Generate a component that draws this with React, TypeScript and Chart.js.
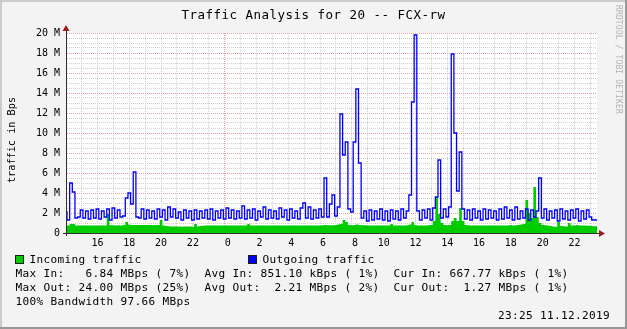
import React, { useEffect, useRef } from 'react';
import { Chart, registerables } from 'chart.js';

Chart.register(...registerables);

// ---- data (MBps, 10-minute steps) ----
const TITLE = 'Traffic Analysis for 20 -- FCX-rw';
const Y_TITLE = 'traffic in Bps';
const WATERMARK = 'RRDTOOL / TOBI OETIKER';
const TIMESTAMP = '23:25 11.12.2019';
const START_HOUR = 14.08333; // 10.12.2019 14:05 (hours from 10.12 00:00)
const END_HOUR = 47.41667; // 11.12.2019 23:25
const STEP_HOURS = 1 / 6;
const Y_MAX = 20;
const Y_LABEL_EVERY = 2;
const Y_GRID_STEP = 0.5;
const SERIES_OUT = 'Outgoing traffic';
const SERIES_IN = 'Incoming traffic';

const OUT_MBPS = [
  2.2, 1.3, 5.0, 4.1, 1.5, 1.6, 2.3, 1.5, 2.2, 1.4,
  2.3, 1.5, 2.4, 1.4, 2.2, 1.6, 2.4, 1.3, 2.5, 1.5,
  2.3, 1.6, 1.7, 3.5, 4.0, 2.9, 6.1, 1.6, 1.5, 2.4,
  1.4, 2.3, 1.5, 2.2, 1.4, 2.4, 1.6, 2.3, 1.3, 2.6,
  1.6, 2.4, 1.5, 2.1, 1.3, 2.3, 1.5, 2.2, 1.3, 2.3,
  1.4, 2.2, 1.5, 2.3, 1.4, 2.4, 1.3, 2.2, 1.5, 2.3,
  1.4, 2.5, 1.5, 2.3, 1.4, 2.2, 1.5, 2.7, 1.4, 2.3,
  1.5, 2.4, 1.3, 2.2, 1.6, 2.6, 1.4, 2.3, 1.5, 2.2,
  1.4, 2.5, 1.6, 2.3, 1.3, 2.4, 1.5, 2.2, 1.4, 2.5,
  3.0, 1.5, 2.6, 1.4, 2.3, 1.5, 2.4, 1.6, 5.5, 1.6,
  2.9, 3.8, 1.7, 2.6, 11.9, 7.8, 9.1, 2.4, 2.1, 9.1,
  14.4, 7.0, 1.5, 2.2, 1.2, 2.3, 1.3, 2.2, 1.4, 2.4,
  1.3, 2.2, 1.2, 2.3, 1.4, 2.2, 1.3, 2.4, 1.5, 2.2,
  3.8, 13.1, 19.8, 2.2, 1.3, 2.3, 1.5, 2.4, 1.3, 2.5,
  3.6, 7.3, 1.5, 2.4, 1.6, 2.6, 17.9, 10.0, 4.2, 8.1,
  2.4, 1.4, 2.3, 1.3, 2.4, 1.5, 2.2, 1.3, 2.4, 1.4,
  2.3, 1.5, 2.2, 1.3, 2.4, 1.4, 2.6, 1.5, 2.3, 1.3,
  2.6, 1.4, 2.2, 1.5, 2.4, 1.3, 2.3, 1.6, 2.2, 5.5,
  1.5, 2.4, 1.3, 2.2, 1.5, 2.3, 1.2, 2.4, 1.4, 2.2,
  1.3, 2.3, 1.5, 2.4, 1.2, 2.2, 1.4, 2.3, 1.6, 1.3,
];

const IN_MBPS = [
  0.75, 0.75, 0.9, 0.9, 0.75, 0.74, 0.76, 0.75, 0.74, 0.76,
  0.75, 0.74, 0.76, 0.75, 0.75, 0.76, 1.9, 0.78, 0.77, 0.76,
  0.77, 0.76, 0.8, 1.1, 0.85, 0.8, 0.8, 0.8, 0.79, 0.8,
  0.8, 0.79, 0.8, 0.78, 0.8, 0.79, 1.3, 0.75, 0.7, 0.68,
  0.66, 0.65, 0.64, 0.65, 0.63, 0.66, 0.64, 0.65, 0.63, 0.9,
  0.66, 0.7, 0.72, 0.74, 0.75, 0.76, 0.75, 0.74, 0.75, 0.76,
  0.75, 0.76, 0.74, 0.75, 0.76, 0.75, 0.76, 0.74, 0.75, 0.9,
  0.75, 0.76, 0.75, 0.74, 0.75, 0.76, 0.75, 0.76, 0.74, 0.75,
  0.76, 0.75, 0.74, 0.76, 0.75, 0.74, 0.76, 0.75, 0.76, 0.75,
  0.76, 0.75, 0.74, 0.76, 0.75, 0.76, 0.75, 0.78, 0.8, 0.78,
  0.77, 0.78, 0.8, 0.85, 0.9, 1.3, 1.1, 0.8, 0.78, 0.8,
  0.85, 0.8, 0.78, 0.77, 0.76, 0.75, 0.76, 0.75, 0.76, 0.75,
  0.76, 0.74, 0.75, 0.9, 0.76, 0.75, 0.74, 0.76, 0.75, 0.78,
  0.85, 1.1, 0.8, 0.76, 0.75, 0.76, 0.75, 0.78, 0.8, 1.2,
  3.6, 1.9, 1.0, 0.8, 0.78, 0.8, 1.2, 1.5, 1.2, 2.5,
  1.2, 0.8, 0.78, 0.76, 0.75, 0.74, 0.76, 0.75, 0.74, 0.76,
  0.75, 0.74, 0.76, 0.75, 0.74, 0.76, 0.75, 0.74, 0.8, 0.76,
  0.78, 0.8, 0.85, 0.9, 3.3, 2.0, 1.5, 4.6, 1.6, 1.0,
  0.8, 0.78, 0.76, 0.7, 0.65, 0.63, 1.1, 0.7, 0.68, 0.66,
  1.0, 0.75, 0.74, 0.8, 0.76, 0.75, 0.74, 0.73, 0.72, 0.67,
];

const LEGEND_LINES = [
  'Max In:   6.84 MBps ( 7%)  Avg In: 851.10 kBps ( 1%)  Cur In: 667.77 kBps ( 1%)',
  'Max Out: 24.00 MBps (25%)  Avg Out:  2.21 MBps ( 2%)  Cur Out:  1.27 MBps ( 1%)',
  '100% Bandwidth 97.66 MBps',
];

// ---- styling ----
const W = 627;
const H = 329;
const MONO = '"DejaVu Sans Mono", monospace';
const BG = '#f3f3f3';
const GREEN = '#00cc00';
const BLUE = '#0000ff';
const MAJOR_GRID = '#e4a0a0';
const MINOR_GRID = '#cfcfcf';
const ARROW = '#9b1c1c';

function toPoints(values: number[]) {
  const pts = values.map((v, i) => ({ x: START_HOUR + i * STEP_HOURS, y: v }));
  pts.push({ x: END_HOUR, y: values[values.length - 1] });
  return pts;
}

function monoText(
  ctx: CanvasRenderingContext2D,
  text: string,
  x: number,
  y: number,
  size: number,
  advance: number,
  color: string,
) {
  ctx.save();
  ctx.font = `${size}px ${MONO}`;
  ctx.fillStyle = color;
  ctx.textAlign = 'left';
  ctx.textBaseline = 'alphabetic';
  const natural = ctx.measureText('M').width;
  const c: any = ctx;
  if ('letterSpacing' in c) {
    c.letterSpacing = `${advance - natural}px`;
    ctx.fillText(text, x, y);
    c.letterSpacing = '0px';
  } else {
    ctx.translate(x, y);
    ctx.scale(advance / natural, 1);
    ctx.fillText(text, 0, 0);
  }
  ctx.restore();
}

const decorPlugin = {
  id: 'rrdDecor',
  beforeDraw(chart: any) {
    const { ctx, chartArea } = chart;
    ctx.save();
    ctx.fillStyle = BG;
    ctx.fillRect(0, 0, W, H);
    // 3D frame
    ctx.fillStyle = '#cbcbcb';
    ctx.fillRect(0, 0, W, 2);
    ctx.fillRect(0, 0, 2, H);
    ctx.fillStyle = '#999999';
    ctx.fillRect(0, H - 2, W, 2);
    ctx.fillRect(W - 2, 0, 2, H);
    // canvas
    ctx.fillStyle = '#ffffff';
    ctx.fillRect(chartArea.left, chartArea.top, chartArea.right - chartArea.left, chartArea.bottom - chartArea.top);
    ctx.restore();
  },
  afterDraw(chart: any) {
    const { ctx, chartArea } = chart;
    const L = Math.round(chartArea.left);
    const B = Math.round(chartArea.bottom);
    const T = Math.round(chartArea.top);
    const R = Math.round(chartArea.right);
    ctx.save();
    // axes
    ctx.fillStyle = '#303030';
    ctx.fillRect(L - 1, T - 3, 1, B - T + 6);
    ctx.fillRect(L - 4, B, R - L + 7, 1);
    // arrows
    ctx.fillStyle = ARROW;
    ctx.beginPath();
    ctx.moveTo(L - 4.5, T - 2);
    ctx.lineTo(L + 2.5, T - 2);
    ctx.lineTo(L - 1, T - 8);
    ctx.closePath();
    ctx.fill();
    ctx.beginPath();
    ctx.moveTo(R + 2, B - 3);
    ctx.lineTo(R + 2, B + 4);
    ctx.lineTo(R + 8, B + 0.5);
    ctx.closePath();
    ctx.fill();

    // title
    monoText(ctx, TITLE, 313.5 - (TITLE.length * 8) / 2, 19, 12.5, 8, '#000');

    // y title (rotated)
    ctx.save();
    ctx.translate(15, 140);
    ctx.rotate(-Math.PI / 2);
    monoText(ctx, Y_TITLE, -(Y_TITLE.length * 6.15) / 2, 0, 10.2, 6.15, '#000');
    ctx.restore();

    // watermark
    ctx.save();
    ctx.translate(615.5, 5);
    ctx.rotate(Math.PI / 2);
    monoText(ctx, WATERMARK, 0, 0, 8, 4.95, '#b3b3b3');
    ctx.restore();

    // legend boxes
    const boxes = [
      { x: 15, color: GREEN, label: SERIES_IN, tx: 29.5 },
      { x: 248, color: BLUE, label: SERIES_OUT, tx: 262.5 },
    ];
    boxes.forEach((b) => {
      ctx.fillStyle = b.color;
      ctx.fillRect(b.x, 255, 9, 9);
      ctx.strokeStyle = '#1a1a1a';
      ctx.lineWidth = 1;
      ctx.strokeRect(b.x + 0.5, 255.5, 8, 8);
      monoText(ctx, b.label, b.tx, 263, 11.1, 7, '#000');
    });
    LEGEND_LINES.forEach((line, i) => {
      monoText(ctx, line, 15.5, 277 + i * 14, 11.1, 7, '#000');
    });
    monoText(ctx, TIMESTAMP, 610 - TIMESTAMP.length * 7, 319, 11.1, 7, '#000');
    ctx.restore();
  },
};

export default function App() {
  const ref = useRef<HTMLCanvasElement | null>(null);

  useEffect(() => {
    if (!ref.current) return;
    const hourTicks: number[] = [];
    for (let h = Math.ceil(START_HOUR); h <= Math.floor(END_HOUR); h++) hourTicks.push(h);
    const yTicks: number[] = [];
    for (let v = 0; v <= Y_MAX + 1e-9; v += Y_GRID_STEP) yTicks.push(Math.round(v * 10) / 10);

    const chart = new Chart(ref.current, {
      type: 'line',
      data: {
        datasets: [
          {
            label: SERIES_OUT,
            data: toPoints(OUT_MBPS),
            borderColor: BLUE,
            borderWidth: 1.3,
            stepped: 'after',
            pointRadius: 0,
            fill: false,
            order: 0,
          },
          {
            label: SERIES_IN,
            data: toPoints(IN_MBPS),
            borderColor: 'rgba(0,0,0,0)',
            backgroundColor: GREEN,
            borderWidth: 0,
            stepped: 'after',
            pointRadius: 0,
            fill: 'origin',
            order: 1,
          },
        ],
      },
      options: {
        responsive: false,
        animation: false,
        devicePixelRatio: 1,
        events: [],
        layout: { padding: { left: 0, top: 33, right: 30, bottom: 76 } },
        plugins: {
          legend: { display: false },
          title: { display: false },
          tooltip: { enabled: false },
        },
        scales: {
          x: {
            type: 'linear',
            min: START_HOUR,
            max: END_HOUR,
            afterBuildTicks: (s: any) => {
              s.ticks = hourTicks.map((v) => ({ value: v }));
            },
            afterFit: (s: any) => {
              s.height = 20;
            },
            ticks: {
              autoSkip: false,
              maxRotation: 0,
              minRotation: 0,
              padding: 4,
              color: '#000',
              font: { family: MONO, size: 10 },
              callback: (v: any) => {
                const n = Math.round(Number(v));
                if (n % 2 !== 0) return '';
                const h = n % 24;
                return h < 10 ? ' ' + h : String(h);
              },
            },
            grid: {
              drawTicks: false,
              lineWidth: 1,
              color: (c: any) => (c.tick && Math.round(c.tick.value) % 24 === 0 ? MAJOR_GRID : MINOR_GRID),
            },
            border: { display: false, dash: [1, 1] },
          },
          y: {
            type: 'linear',
            min: 0,
            max: Y_MAX,
            afterBuildTicks: (s: any) => {
              s.ticks = yTicks.map((v) => ({ value: v }));
            },
            afterFit: (s: any) => {
              s.width = 67;
            },
            ticks: {
              autoSkip: false,
              padding: 7,
              color: '#000',
              font: { family: MONO, size: 10 },
              callback: (v: any) => {
                const n = Number(v);
                if (Math.abs(n % Y_LABEL_EVERY) > 1e-6) return '';
                return n === 0 ? '0' : `${n} M`;
              },
            },
            grid: {
              drawTicks: false,
              lineWidth: 1,
              color: (c: any) =>
                c.tick && Math.abs(c.tick.value % Y_LABEL_EVERY) < 1e-6 ? MAJOR_GRID : MINOR_GRID,
            },
            border: { display: false, dash: [1, 1] },
          },
        },
      },
      plugins: [decorPlugin],
    } as any);
    return () => chart.destroy();
  }, []);

  return (
    <div style={{ position: 'fixed', left: 0, top: 0, width: W, height: H }}>
      <canvas ref={ref} width={W} height={H} style={{ display: 'block', width: W, height: H }} />
    </div>
  );
}
